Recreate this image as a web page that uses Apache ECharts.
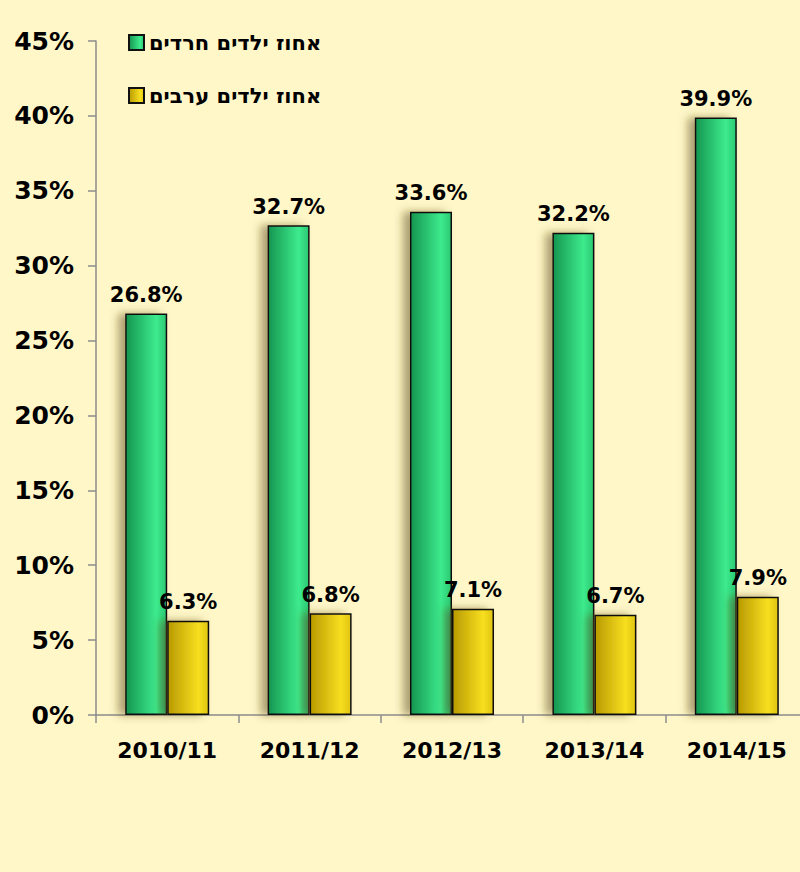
<!DOCTYPE html>
<html><head><meta charset="utf-8">
<script src="https://cdn.jsdelivr.net/npm/echarts@6/dist/echarts.min.js"></script>
<style>html,body{margin:0;padding:0;background:#FFF7C8;}#c{width:800px;height:872px;}</style>
</head><body><div id="c"></div>
<script>
var categories = ['2010/11','2011/12','2012/13','2013/14','2014/15'];
var haredi = [26.8, 32.7, 33.6, 32.2, 39.9];
var arab = [6.3, 6.8, 7.1, 6.7, 7.9];
var seriesNames = ['אחוז ילדים חרדים','אחוז ילדים ערבים'];
var yTicks = [0,5,10,15,20,25,30,35,40,45];

var font = '"DejaVu Sans", Verdana, sans-serif';
function grad(a,b,c){return new echarts.graphic.LinearGradient(0,0,1,0,[{offset:0,color:a},{offset:0.75,color:b},{offset:1,color:c}]);}
var chart = echarts.init(document.getElementById('c'), null, {renderer:'svg'});
chart.setOption({
  backgroundColor:'#FFF7C8',
  animation:false,
  grid:{left:96,right:-8,top:41,bottom:157,containLabel:false,outerBoundsMode:'none'},
  legend:{
    orient:'vertical', left:123, top:27, itemGap:32, itemWidth:15, itemHeight:15,
    textStyle:{fontFamily:font,fontWeight:'bold',fontSize:21,color:'#000'},
    data:seriesNames.map(function(n){return {name:n,icon:'rect'};})
  },
  xAxis:{
    type:'category', data:categories,
    axisLine:{lineStyle:{color:'#8C8C8C',width:1.5}},
    axisTick:{show:true,length:8,lineStyle:{color:'#8C8C8C',width:1.5}},
    axisLabel:{fontFamily:font,fontWeight:'bold',fontSize:22,color:'#000',margin:24}
  },
  yAxis:{
    type:'value', min:yTicks[0], max:yTicks[yTicks.length-1], interval:5,
    splitLine:{show:false},
    axisLine:{show:true,lineStyle:{color:'#8C8C8C',width:1.5}},
    axisTick:{show:true,length:8,lineStyle:{color:'#8C8C8C',width:1.5}},
    axisLabel:{fontFamily:font,fontWeight:'bold',fontSize:25,color:'#000',margin:22,formatter:'{value}%'}
  },
  series:[
    {name:seriesNames[0],type:'bar',data:haredi,barWidth:42,barGap:'0%',
     itemStyle:{color:grad('#159650','#3DEB8D','#2BC872'),borderColor:'#111',borderWidth:1.5,
       shadowColor:'rgba(90,70,20,0.5)',shadowBlur:8,shadowOffsetX:-7,shadowOffsetY:0},
     label:{show:true,position:'top',distance:8,formatter:'{c}%',fontFamily:font,fontWeight:'bold',fontSize:21,color:'#000'}},
    {name:seriesNames[1],type:'bar',data:arab,barWidth:42,barGap:'0%',
     itemStyle:{color:grad('#B89A00','#F7DF20','#E0C410'),borderColor:'#111',borderWidth:1.5,
       shadowColor:'rgba(90,70,20,0.5)',shadowBlur:8,shadowOffsetX:-7,shadowOffsetY:0},
     label:{show:true,position:'top',distance:8,formatter:'{c}%',fontFamily:font,fontWeight:'bold',fontSize:21,color:'#000'}}
  ]
});
</script></body></html>
